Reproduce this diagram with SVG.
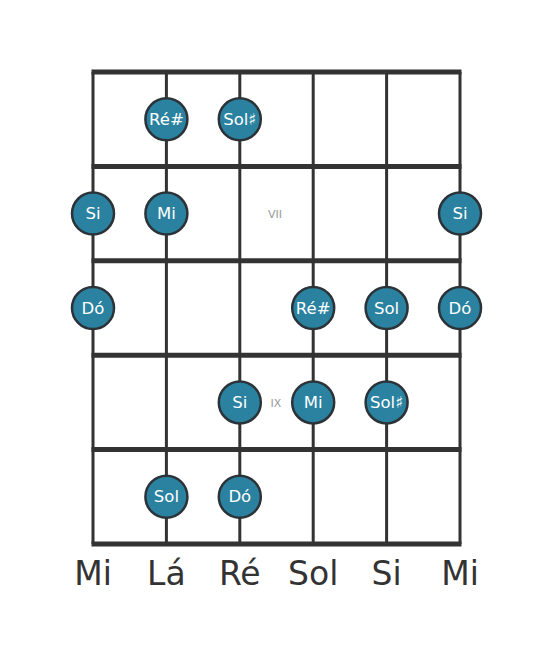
<svg xmlns="http://www.w3.org/2000/svg" width="553" height="656" viewBox="0 0 553 656">
<style>
.fret{stroke:#333;stroke-width:5;fill:none}
.str{stroke:#333;stroke-width:3;fill:none}
.dot circle{fill:#2a82a0;stroke:#2b3338;stroke-width:2.5}
.dot text{fill:#fff;font-family:"DejaVu Sans",sans-serif;font-size:16.5px;text-anchor:middle;dominant-baseline:central}
.pos{fill:#999;font-family:"DejaVu Sans",sans-serif;font-size:11px;text-anchor:middle;dominant-baseline:central}
.sn{fill:#333;font-family:"DejaVu Sans",sans-serif;font-size:33px;text-anchor:middle}
</style>
<rect width="553" height="656" fill="#fff"/>
<g id="connectors">
<line class="str" x1="93" y1="72" x2="93" y2="544"/>
<line class="str" x1="166.4" y1="72" x2="166.4" y2="544"/>
<line class="str" x1="239.8" y1="72" x2="239.8" y2="544"/>
<line class="str" x1="313.2" y1="72" x2="313.2" y2="544"/>
<line class="str" x1="386.6" y1="72" x2="386.6" y2="544"/>
<line class="str" x1="460" y1="72" x2="460" y2="544"/>
<line class="fret" x1="91.5" y1="72" x2="461.5" y2="72"/>
<line class="fret" x1="91.5" y1="166.4" x2="461.5" y2="166.4"/>
<line class="fret" x1="91.5" y1="260.8" x2="461.5" y2="260.8"/>
<line class="fret" x1="91.5" y1="355.2" x2="461.5" y2="355.2"/>
<line class="fret" x1="91.5" y1="449.6" x2="461.5" y2="449.6"/>
<line class="fret" x1="91.5" y1="544" x2="461.5" y2="544"/>
</g>
<text class="pos" x="275" y="214">VII</text>
<text class="pos" x="276" y="403">IX</text>
<g id="n1" class="dot"><circle cx="166.4" cy="119.2" r="21"/><text x="166.4" y="119.2">Ré#</text></g>
<g id="n2" class="dot"><circle cx="239.8" cy="119.2" r="21"/><text x="239.8" y="119.2">Sol♯</text></g>
<g id="n3" class="dot"><circle cx="93" cy="213.6" r="21"/><text x="93" y="213.6">Si</text></g>
<g id="n4" class="dot"><circle cx="166.4" cy="213.6" r="21"/><text x="166.4" y="213.6">Mi</text></g>
<g id="n5" class="dot"><circle cx="460" cy="213.6" r="21"/><text x="460" y="213.6">Si</text></g>
<g id="n6" class="dot"><circle cx="93" cy="308" r="21"/><text x="93" y="308">Dó</text></g>
<g id="n7" class="dot"><circle cx="313.2" cy="308" r="21"/><text x="313.2" y="308">Ré#</text></g>
<g id="n8" class="dot"><circle cx="386.6" cy="308" r="21"/><text x="386.6" y="308">Sol</text></g>
<g id="n9" class="dot"><circle cx="460" cy="308" r="21"/><text x="460" y="308">Dó</text></g>
<g id="n10" class="dot"><circle cx="239.8" cy="402.4" r="21"/><text x="239.8" y="402.4">Si</text></g>
<g id="n11" class="dot"><circle cx="313.2" cy="402.4" r="21"/><text x="313.2" y="402.4">Mi</text></g>
<g id="n12" class="dot"><circle cx="386.6" cy="402.4" r="21"/><text x="386.6" y="402.4">Sol♯</text></g>
<g id="n13" class="dot"><circle cx="166.4" cy="496.8" r="21"/><text x="166.4" y="496.8">Sol</text></g>
<g id="n14" class="dot"><circle cx="239.8" cy="496.8" r="21"/><text x="239.8" y="496.8">Dó</text></g>
<g id="labels">
<text class="sn" x="93" y="585">Mi</text>
<text class="sn" x="166.4" y="585">Lá</text>
<text class="sn" x="239.8" y="585">Ré</text>
<text class="sn" x="313.2" y="585">Sol</text>
<text class="sn" x="386.6" y="585">Si</text>
<text class="sn" x="460" y="585">Mi</text>
</g>
</svg>
